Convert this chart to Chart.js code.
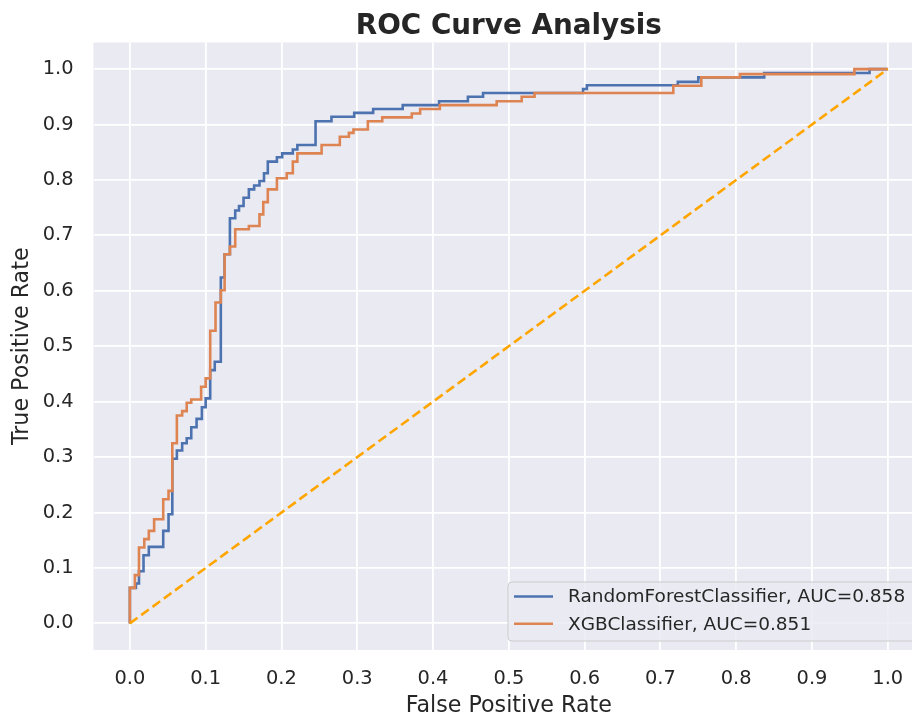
<!DOCTYPE html>
<html>
<head>
<meta charset="utf-8">
<script src="https://cdn.jsdelivr.net/npm/chart.js@4/dist/chart.umd.min.js"></script>
<style>
  html, body { margin: 0; padding: 0; background: #ffffff; }
  #wrap { width: 912px; height: 718px; position: relative; }
</style>
</head>
<body>
<div id="wrap"><canvas id="c"></canvas></div>
<script>
// ---- data ----
const chartTitle = "ROC Curve Analysis";
const xAxisTitle = "False Positive Rate";
const yAxisTitle = "True Positive Rate";
const seriesLabels = ["RandomForestClassifier, AUC=0.858", "XGBClassifier, AUC=0.851"];

const xTickValues = [0, 0.1, 0.2, 0.3, 0.4, 0.5, 0.6, 0.7, 0.8, 0.9, 1.0];
const yTickValues = [0, 0.1, 0.2, 0.3, 0.4, 0.5, 0.6, 0.7, 0.8, 0.9, 1.0];

const rfFpr = [0, 0, 0.008, 0.008, 0.012, 0.012, 0.018, 0.018, 0.025, 0.025, 0.044, 0.044, 0.051, 0.051, 0.056, 0.056,
  0.062, 0.062, 0.069, 0.069, 0.075, 0.075, 0.081, 0.081, 0.088, 0.088, 0.095, 0.095, 0.100, 0.100, 0.106, 0.106,
  0.112, 0.112, 0.120, 0.120, 0.125, 0.125, 0.132, 0.132, 0.139, 0.139, 0.144, 0.144, 0.150, 0.150, 0.157, 0.157,
  0.164, 0.164, 0.171, 0.171, 0.177, 0.177, 0.182, 0.182, 0.194, 0.194, 0.201, 0.201, 0.215, 0.215, 0.221, 0.221,
  0.245, 0.245, 0.266, 0.266, 0.296, 0.296, 0.321, 0.321, 0.360, 0.360, 0.408, 0.408, 0.446, 0.446, 0.466, 0.466,
  0.598, 0.598, 0.603, 0.603, 0.723, 0.723, 0.750, 0.750, 0.837, 0.837, 0.976, 0.976, 1.0];
const rfTpr = [0, 0.064, 0.064, 0.072, 0.072, 0.094, 0.094, 0.123, 0.123, 0.138, 0.138, 0.167, 0.167, 0.197, 0.197, 0.297,
  0.297, 0.312, 0.312, 0.325, 0.325, 0.334, 0.334, 0.354, 0.354, 0.369, 0.369, 0.390, 0.390, 0.406, 0.406, 0.457,
  0.457, 0.472, 0.472, 0.624, 0.624, 0.666, 0.666, 0.731, 0.731, 0.745, 0.745, 0.753, 0.753, 0.768, 0.768, 0.783,
  0.783, 0.790, 0.790, 0.798, 0.798, 0.812, 0.812, 0.833, 0.833, 0.841, 0.841, 0.848, 0.848, 0.855, 0.855, 0.863,
  0.863, 0.906, 0.906, 0.914, 0.914, 0.921, 0.921, 0.928, 0.928, 0.935, 0.935, 0.942, 0.942, 0.950, 0.950, 0.957,
  0.957, 0.964, 0.964, 0.971, 0.971, 0.977, 0.977, 0.985, 0.985, 0.993, 0.993, 1.0, 1.0];

const xgbFpr = [0, 0, 0.0066, 0.0066, 0.012, 0.012, 0.019, 0.019, 0.025, 0.025, 0.032, 0.032, 0.044, 0.044, 0.051, 0.051,
  0.056, 0.056, 0.062, 0.062, 0.069, 0.069, 0.075, 0.075, 0.081, 0.081, 0.094, 0.094, 0.100, 0.100, 0.106, 0.106,
  0.113, 0.113, 0.120, 0.120, 0.125, 0.125, 0.132, 0.132, 0.139, 0.139, 0.157, 0.157, 0.171, 0.171, 0.176, 0.176,
  0.182, 0.182, 0.194, 0.194, 0.207, 0.207, 0.215, 0.215, 0.221, 0.221, 0.253, 0.253, 0.277, 0.277, 0.289, 0.289,
  0.295, 0.295, 0.314, 0.314, 0.333, 0.333, 0.372, 0.372, 0.383, 0.383, 0.409, 0.409, 0.484, 0.484, 0.517, 0.517,
  0.534, 0.534, 0.717, 0.717, 0.754, 0.754, 0.805, 0.805, 0.956, 0.956, 1.0];
const xgbTpr = [0, 0.064, 0.064, 0.087, 0.087, 0.137, 0.137, 0.152, 0.152, 0.167, 0.167, 0.188, 0.188, 0.224, 0.224, 0.239,
  0.239, 0.325, 0.325, 0.375, 0.375, 0.383, 0.383, 0.398, 0.398, 0.404, 0.404, 0.427, 0.427, 0.442, 0.442, 0.528,
  0.528, 0.579, 0.579, 0.601, 0.601, 0.666, 0.666, 0.680, 0.680, 0.711, 0.711, 0.717, 0.717, 0.738, 0.738, 0.760,
  0.760, 0.783, 0.783, 0.803, 0.803, 0.812, 0.812, 0.833, 0.833, 0.848, 0.848, 0.863, 0.863, 0.878, 0.878, 0.885,
  0.885, 0.891, 0.891, 0.906, 0.906, 0.913, 0.913, 0.920, 0.920, 0.928, 0.928, 0.935, 0.935, 0.942, 0.942, 0.950,
  0.950, 0.957, 0.957, 0.970, 0.970, 0.985, 0.985, 0.991, 0.991, 1.0, 1.0];

const chanceFpr = [0, 1];
const chanceTpr = [0, 1];

// ---- styling ----
const FONT = "'DejaVu Sans', 'Liberation Sans', sans-serif";
const TEXT = "#262626";
const BLUE = "#4c72b0";
const ORANGE = "#dd8452";
const DIAG = "#ffa500";
const BG = "#eaeaf2";

const toPts = (xs, ys) => xs.map((x, i) => ({ x: x, y: ys[i] }));

const bgPlugin = {
  id: 'bg',
  beforeDraw(chart) {
    const { ctx, chartArea: a } = chart;
    ctx.save();
    ctx.fillStyle = BG;
    ctx.fillRect(a.left, a.top, a.right - a.left, a.bottom - a.top);
    ctx.restore();
  }
};

const textPlugin = {
  id: 'texts',
  afterDraw(chart) {
    const { ctx, chartArea: a, scales } = chart;
    const cx = scales.x.getPixelForValue(0.5);
    ctx.save();
    ctx.fillStyle = TEXT;
    ctx.textAlign = 'center';
    // title
    ctx.font = "bold 27.8px " + FONT;
    ctx.textBaseline = 'alphabetic';
    ctx.fillText(chartTitle, cx, a.top - 9);
    // x axis title
    ctx.font = "22.2px " + FONT;
    ctx.textBaseline = 'middle';
    ctx.fillText(xAxisTitle, cx, a.bottom + 56);
    // y axis title
    ctx.save();
    ctx.translate(22, (a.top + a.bottom) / 2);
    ctx.rotate(-Math.PI / 2);
    ctx.fillText(yAxisTitle, 0, 0);
    ctx.restore();
    ctx.restore();

    // legend (lower right, inside axes)
    const bx = 508, bh = 59, by = a.bottom - 9 - bh, bw = 440;
    ctx.save();
    ctx.beginPath();
    ctx.roundRect(bx, by, bw, bh, 4);
    ctx.fillStyle = "rgba(234,234,242,0.8)";
    ctx.fill();
    ctx.lineWidth = 1;
    ctx.strokeStyle = "#cccccc";
    ctx.stroke();
    const cols = [BLUE, ORANGE];
    ctx.font = "18.5px " + FONT;
    ctx.textAlign = 'left';
    ctx.textBaseline = 'middle';
    for (let i = 0; i < seriesLabels.length; i++) {
      const ly = by + 14.5 + i * 27.3;
      ctx.beginPath();
      ctx.moveTo(514, ly);
      ctx.lineTo(553, ly);
      ctx.strokeStyle = cols[i];
      ctx.lineWidth = 2.6;
      ctx.stroke();
      ctx.fillStyle = TEXT;
      ctx.fillText(seriesLabels[i], 568, ly + 1);
    }
    ctx.restore();
  }
};

new Chart(document.getElementById('c'), {
  type: 'line',
  data: {
    datasets: [
      { label: 'chance', data: toPts(chanceFpr, chanceTpr), borderColor: DIAG, borderWidth: 2.6,
        borderDash: [9.5, 4.5], pointRadius: 0, tension: 0, fill: false, order: 0 },
      { label: seriesLabels[1], data: toPts(xgbFpr, xgbTpr), borderColor: ORANGE, borderWidth: 2.6,
        pointRadius: 0, tension: 0, fill: false, order: 1 },
      { label: seriesLabels[0], data: toPts(rfFpr, rfTpr), borderColor: BLUE, borderWidth: 2.6,
        pointRadius: 0, tension: 0, fill: false, order: 2 }
    ]
  },
  options: {
    responsive: true,
    maintainAspectRatio: false,
    animation: false,
    layout: { padding: { top: 42.5, left: 0, right: 0, bottom: 0 } },
    plugins: { legend: { display: false }, title: { display: false }, tooltip: { enabled: false } },
    scales: {
      x: {
        type: 'linear', min: -0.048, max: 1.032,
        afterBuildTicks(s) { s.ticks = xTickValues.map(v => ({ value: v })); },
        afterFit(s) { s.height = 68; s.paddingLeft = 0; s.paddingRight = 0; },
        border: { display: false },
        grid: { color: '#ffffff', lineWidth: 1.8, drawTicks: false },
        ticks: { color: TEXT, font: { family: FONT, size: 19.4 }, padding: 17, maxRotation: 0, autoSkip: false,
          callback: v => Number(v).toFixed(1) }
      },
      y: {
        type: 'linear', min: -0.048, max: 1.048,
        afterBuildTicks(s) { s.ticks = yTickValues.map(v => ({ value: v })); },
        afterFit(s) { s.width = 93.5; s.paddingTop = 0; s.paddingBottom = 0; },
        border: { display: false },
        grid: { color: '#ffffff', lineWidth: 1.8, drawTicks: false },
        ticks: { color: TEXT, font: { family: FONT, size: 19.4 }, padding: 20, autoSkip: false,
          callback: v => Number(v).toFixed(1) }
      }
    }
  },
  plugins: [bgPlugin, textPlugin]
});
</script>
</body>
</html>
